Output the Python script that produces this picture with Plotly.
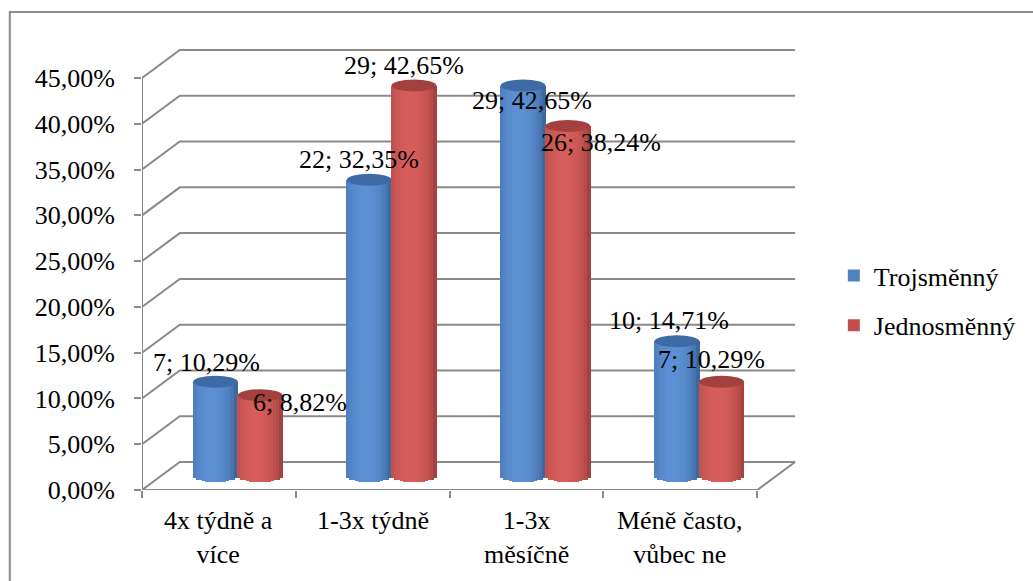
import plotly.graph_objects as go

# ---- data -------------------------------------------------------------
categories = ["4x týdně a<br>více", "1-3x týdně", "1-3x<br>měsíčně", "Méně často,<br>vůbec ne"]
series_names = ["Trojsměnný", "Jednosměnný"]
counts_tri = [7, 22, 29, 10]
pct_tri = [10.29, 32.35, 42.65, 14.71]
counts_one = [6, 29, 26, 7]
pct_one = [8.82, 42.65, 38.24, 10.29]
y_ticks = [0, 5, 10, 15, 20, 25, 30, 35, 40, 45]

# ---- geometry of the pseudo-3D plot (pixels) --------------------------
W, H = 1033, 581
PX_L, PX_R, PX_T, PX_B = 142, 810, 40, 490
CAT_PX = 154.75            # width of one category on the front plane
PPY = 412.0 / 45.0         # pixels per percent
DEPTH_X, DEPTH_Y = 38, 28  # offset of the back wall
CYL_W_PX = 45              # cylinder diameter
CAP_B_PX = 6               # half height of the elliptic caps
N_STRIPS = 15

X_MAX = (PX_R - PX_L) / CAT_PX
Y_MAX = (PX_B - PX_T) / PPY
dx = DEPTH_X / CAT_PX
dy = DEPTH_Y / PPY
cw = CYL_W_PX / CAT_PX
cap_b = CAP_B_PX / PPY
n_cat = len(categories)

GRID = "#8a8a8a"
FONT = "Liberation Serif"
FS = 26
TXT = "#000000"

base_col = ["#4F81BD", "#C0504D"]
dark_col = ["#2f5688", "#8c3836"]
light_col = ["#5c90d4", "#d65d5a"]
cap_col = ["#3e6ba6", "#a4403e"]


def hex_rgb(h):
    h = h.lstrip("#")
    return [int(h[i:i + 2], 16) for i in (0, 2, 4)]


def mix(a, b, t):
    ca, cb = hex_rgb(a), hex_rgb(b)
    return "rgb(%d,%d,%d)" % tuple(round(ca[i] + (cb[i] - ca[i]) * t) for i in range(3))


def shade(u):
    # light coming from front-left: brightest a bit left of the centre
    return max(0.0, 1 - ((u + 0.15) / 1.15) ** 2) ** 0.55


fig = go.Figure()

values = [pct_tri, pct_one]
counts = [counts_tri, counts_one]
mid_x = [i + 0.5 + dx / 2 for i in range(n_cat)]
centres = [[m - cw / 2 for m in mid_x], [m + cw / 2 for m in mid_x]]
base_y = dy / 2

# series bars (flat base colour, carries the legend entry)
for s in range(2):
    fig.add_trace(go.Bar(
        x=centres[s], y=values[s], base=[base_y] * n_cat, width=[cw] * n_cat,
        name=series_names[s], legendgroup=series_names[s],
        marker=dict(color=base_col[s], line=dict(width=0)),
        showlegend=True, hoverinfo="skip",
    ))

# shaded vertical strips giving the cylinder look
strip_w = cw / N_STRIPS
for s in range(2):
    for k in range(N_STRIPS):
        u = -1 + (2 * k + 1) / N_STRIPS
        drop = cap_b * (1 - u * u) ** 0.5
        fig.add_trace(go.Bar(
            x=[c + u * cw / 2 for c in centres[s]],
            y=[v + drop for v in values[s]],
            base=[base_y - drop] * n_cat,
            width=[strip_w * 1.3] * n_cat,
            marker=dict(color=mix(dark_col[s], light_col[s], shade(u)), line=dict(width=0)),
            showlegend=False, legendgroup=series_names[s], hoverinfo="skip",
        ))

shapes = []
line = dict(color=GRID, width=2)

# back wall gridlines with the depth diagonals
for v in y_ticks:
    shapes.append(dict(type="path", xref="x", yref="y", layer="below", line=line,
                       path=f"M0,{v} L{dx},{v + dy} L{n_cat + dx},{v + dy}"))
# floor
shapes.append(dict(type="line", xref="x", yref="y", layer="below", line=line,
                   x0=0, y0=0, x1=n_cat, y1=0))
shapes.append(dict(type="line", xref="x", yref="y", layer="below", line=line,
                   x0=n_cat, y0=0, x1=n_cat + dx, y1=dy))
# front value axis
shapes.append(dict(type="line", xref="x", yref="y", layer="below", line=line,
                   x0=0, y0=0, x1=0, y1=y_ticks[-1]))

# cylinder caps
for s in range(2):
    for i in range(n_cat):
        top = values[s][i] + base_y
        shapes.append(dict(type="circle", xref="x", yref="y", layer="above",
                           x0=centres[s][i] - cw / 2, x1=centres[s][i] + cw / 2,
                           y0=top - cap_b, y1=top + cap_b,
                           fillcolor=cap_col[s], line=dict(width=0)))

# outer chart border
shapes.append(dict(type="rect", xref="paper", yref="paper", layer="below",
                   x0=(9 - PX_L) / (PX_R - PX_L), x1=(1045 - PX_L) / (PX_R - PX_L),
                   y0=(PX_B - 600) / (PX_B - PX_T), y1=(PX_B - 12) / (PX_B - PX_T),
                   line=dict(color="#8c8c8c", width=2), fillcolor="rgba(0,0,0,0)"))

annotations = []


def fmt(n, p):
    return f"{n}; {p:.2f}%".replace(".", ",")


# label nudges (pixels, x right / y up) relative to the cap centre
label_shift = [
    [(-9, 19), (-10, 20), (9, -15), (-8, 21)],
    [(40, -7), (-10, 20), (33, -17), (-10, 22)],
]
for s in range(2):
    for i in range(n_cat):
        annotations.append(dict(
            x=centres[s][i], y=values[s][i] + base_y, xref="x", yref="y",
            text=fmt(counts[s][i], values[s][i]), showarrow=False,
            xanchor="center", yanchor="middle",
            xshift=label_shift[s][i][0], yshift=label_shift[s][i][1],
            font=dict(family=FONT, size=FS, color=TXT),
        ))

# category labels under the floor
for i, c in enumerate(categories):
    annotations.append(dict(
        x=i + 0.5, y=0, xref="x", yref="y", text=c, showarrow=False,
        xanchor="center", yanchor="top", yshift=-14, align="center",
        font=dict(family=FONT, size=FS, color=TXT),
    ))

fig.update_layout(
    width=W, height=H, autosize=False,
    margin=dict(l=PX_L, r=W - PX_R, t=PX_T, b=H - PX_B, pad=0),
    paper_bgcolor="white", plot_bgcolor="rgba(0,0,0,0)",
    barmode="overlay", bargap=0,
    shapes=shapes, annotations=annotations,
    font=dict(family=FONT, size=FS, color=TXT),
    legend=dict(x=(838 - PX_L) / (PX_R - PX_L), y=(PX_B - 252) / (PX_B - PX_T),
                xanchor="left", yanchor="top", traceorder="grouped",
                tracegroupgap=13, bgcolor="rgba(0,0,0,0)",
                font=dict(family=FONT, size=FS, color=TXT)),
    xaxis=dict(range=[0, X_MAX], showgrid=False, zeroline=False, showline=False,
               tickmode="array", tickvals=list(range(n_cat + 1)),
               ticks="outside", ticklen=7, tickwidth=2, tickcolor=GRID,
               showticklabels=False, fixedrange=True),
    yaxis=dict(range=[0, Y_MAX], showgrid=False, zeroline=False, showline=False,
               tickmode="array", tickvals=y_ticks,
               ticktext=[f"{t:.2f}%".replace(".", ",") for t in y_ticks],
               ticks="outside", ticklen=7, tickwidth=2, tickcolor=GRID,
               ticklabelstandoff=14, tickfont=dict(family=FONT, size=FS, color=TXT),
               fixedrange=True),
)

fig.write_html("out.html")
